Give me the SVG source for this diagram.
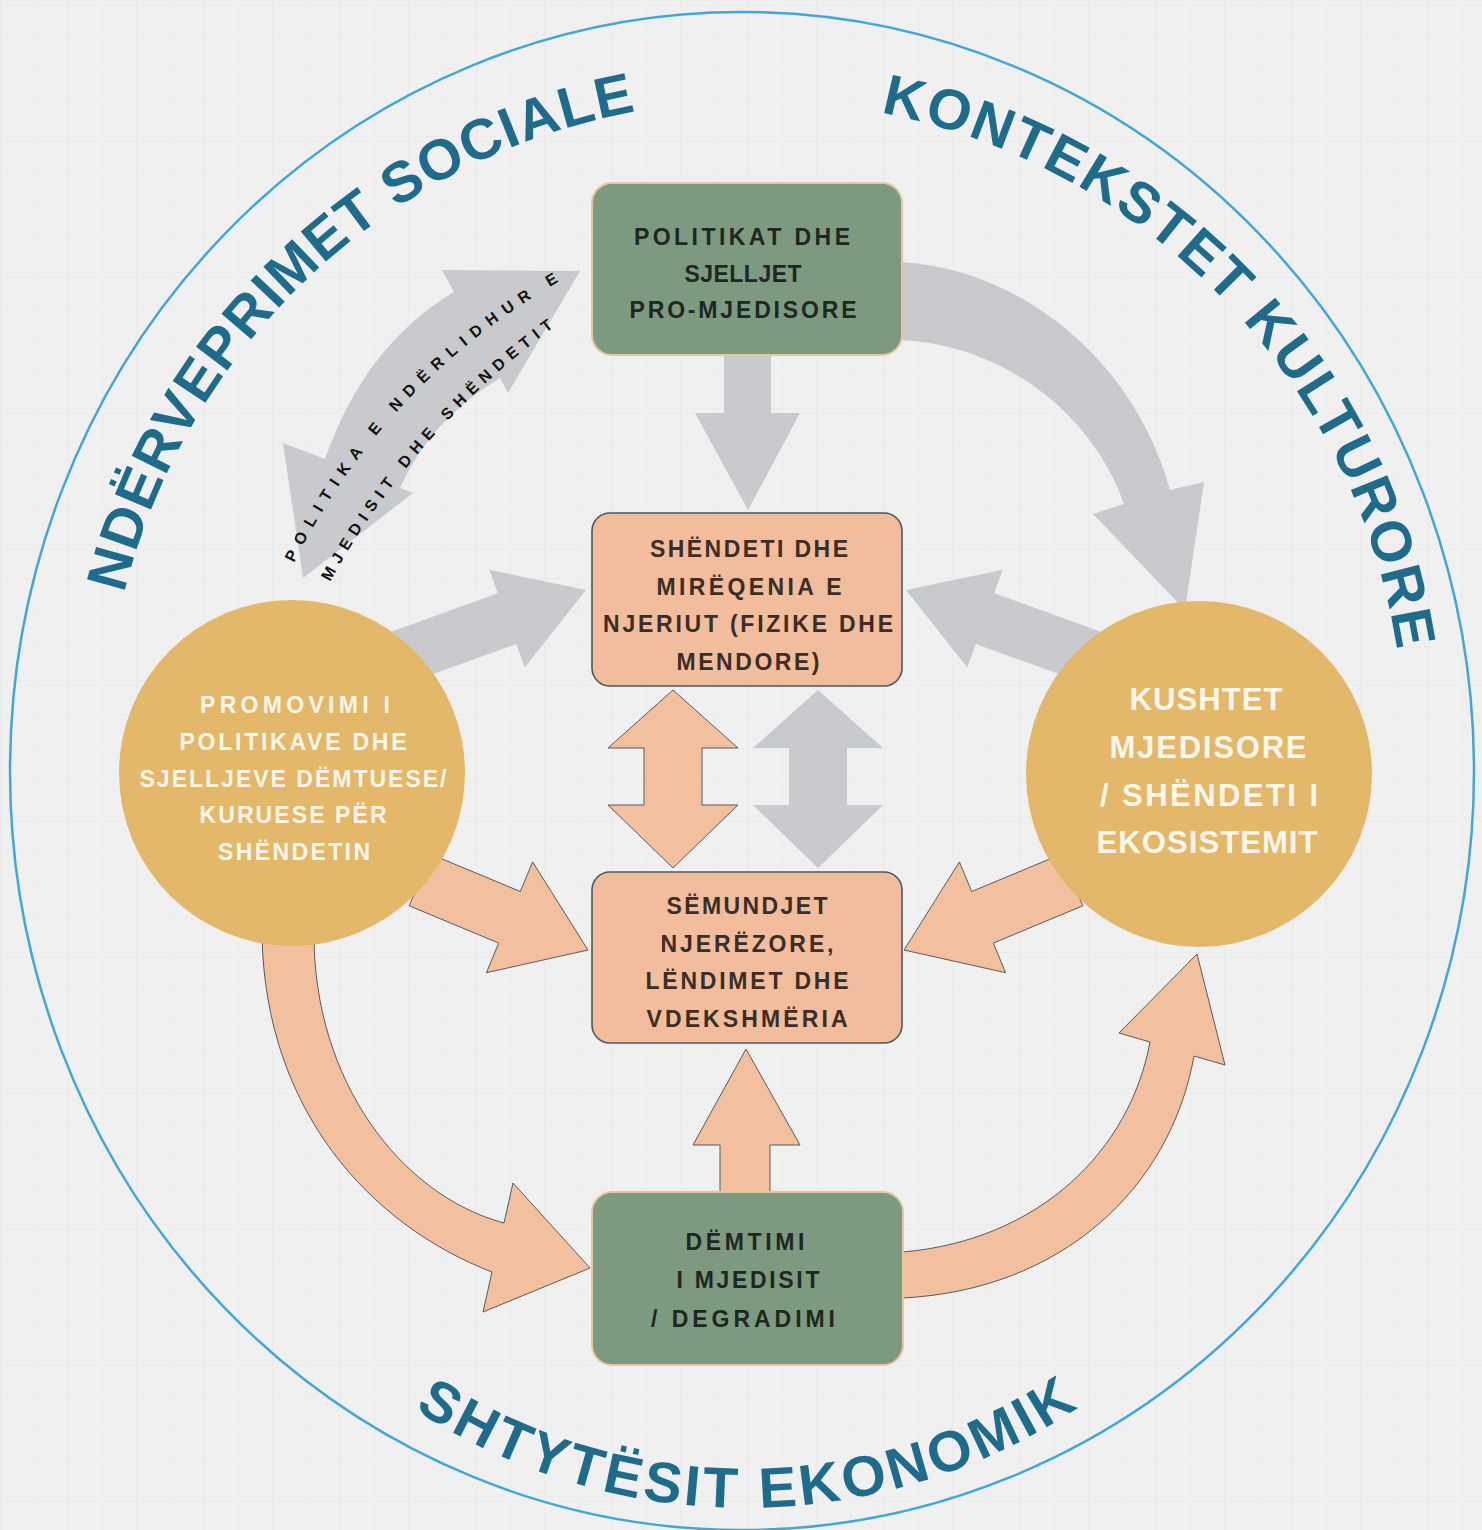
<svg xmlns="http://www.w3.org/2000/svg" width="1482" height="1530" viewBox="0 0 1482 1530">
<defs>
<pattern id="grid" width="34" height="34" patternUnits="userSpaceOnUse">
<path d="M34 0H0V34" fill="none" stroke="#e4e4e4" stroke-width="0.8"/>
</pattern>
<path id="topArc" d="M 105 750 A 650 650 0 0 1 1405 750"/>
<path id="botArc" d="M 142 905 A 603 603 0 0 0 1348 905"/>
<path id="lbl1" d="M 294 563 Q 383 383 563 279"/>
<path id="lbl2" d="M 330 582 Q 417 423 572 314"/>
<style>
.ring{fill:none;stroke:#43a7d5;stroke-width:2.5}
.ctx{font-family:"Liberation Sans",Arial,sans-serif;font-weight:bold;font-size:57px;fill:#1f6b8b}
.gray{fill:#c9cacd}
.peach{fill:#f2bf9f;stroke:#5b5b5b;stroke-width:1}
.green{fill:#7d9a80;stroke:#e8c79c;stroke-width:2}
.pink{fill:#f1bd9c;stroke:#4b5a5e;stroke-width:1.6}
.gold{fill:#e3b86b}
.t{font-family:"Liberation Sans",Arial,sans-serif;font-weight:bold;font-size:23px;text-anchor:middle}
.dark{fill:#1e2721}
.brown{fill:#3b2d27}
.white{fill:#fdf6ea}
.big{font-size:31px}
.lbl{font-family:"Liberation Sans",Arial,sans-serif;font-weight:bold;font-size:16px;fill:#111}
</style>
</defs>
<rect width="1482" height="1530" fill="#f0f0f0"/>
<rect width="1482" height="1530" fill="url(#grid)"/>
<ellipse class="ring" cx="742" cy="771" rx="732" ry="759"/>
<g id="context-labels">
<text class="ctx"><textPath href="#topArc" startOffset="158" textLength="743" lengthAdjust="spacing">NDËRVEPRIMET SOCIALE</textPath></text>
<text class="ctx"><textPath href="#topArc" startOffset="1147" textLength="794" lengthAdjust="spacing">KONTEKSTET KULTURORE</textPath></text>
<text class="ctx"><textPath href="#botArc" startOffset="597" textLength="703" lengthAdjust="spacing">SHTYTËSIT EKONOMIK</textPath></text>
</g>
<g id="connectors">
<path class="gray" d="M 303 578 L 283 443 L 325 459 Q 365 345 454 292 L 442 270 L 580 271 L 508 393 L 500 378 Q 430 420 400 488 L 413 493 Z"/>
<polygon class="gray" points="724,350 771,350 771,413 800,413 748,510 695,413 724,413"/>
<path class="gray" d="M 900 262 C 1020 268 1135 360 1170 490 L 1204 482 L 1185 610 L 1093 514 L 1124 504 C 1095 420 1010 345 900 340 Z"/>
<polygon class="gray" points="385,634 497.8,593.2 489.3,569.7 586,590 524.7,667.5 516.2,644 403.4,684.8"/>
<polygon class="gray" points="1107,634 994.2,593.2 1002.7,569.7 906,590 967.3,667.5 975.8,644 1088.6,684.8"/>
<polygon class="gray" points="818,690 883,748 847,748 847,805 883,805 818,868 753,805 789,805 789,748 753,748"/>
<polygon class="peach" points="673,690 738,748 702,748 702,805 738,805 673,868 608,805 644,805 644,748 608,748"/>
<polygon class="peach" points="430.8,854.2 520.3,891.5 532.6,861.9 588,950 486.4,972.7 498.7,943.1 409.2,905.8"/>
<polygon class="peach" points="1061.2,854.2 971.7,891.5 959.4,861.9 904,950 1005.6,972.7 993.3,943.1 1082.8,905.8"/>
<polygon class="peach" points="720,1195 770,1195 770,1145 800,1145 746,1049 693,1145 720,1145"/>
<path class="peach" d="M 262 935 C 265 1110 370 1225 492 1272 L 483 1312 L 590 1268 L 513 1183 L 504 1223 C 400 1195 314 1080 314 935 Z"/>
<path class="peach" d="M 903 1252 C 1040 1240 1130 1150 1150 1042 L 1119 1033 L 1197 954 L 1225 1065 L 1194 1056 C 1170 1190 1060 1290 903 1298 Z"/>
<text class="lbl"><textPath href="#lbl1" textLength="392" lengthAdjust="spacing">POLITIKA E NDËRLIDHUR E</textPath></text>
<text class="lbl"><textPath href="#lbl2" textLength="342" lengthAdjust="spacing">MJEDISIT DHE SHËNDETIT</textPath></text>
</g>
<g id="node-politikat">
<rect class="green" x="592" y="183" width="310" height="172" rx="20"/>
<text class="t dark" x="742" y="245" textLength="216">POLITIKAT DHE</text>
<text class="t dark" x="743" y="282" textLength="117">SJELLJET</text>
<text class="t dark" x="743" y="318" textLength="227">PRO-MJEDISORE</text>
</g>
<g id="node-shendeti">
<rect class="pink" x="592" y="513" width="310" height="173" rx="18"/>
<text class="t brown" x="749" y="557" textLength="198">SHËNDETI DHE</text>
<text class="t brown" x="749" y="595" textLength="185">MIRËQENIA E</text>
<text class="t brown" x="748" y="632" textLength="290">NJERIUT (FIZIKE DHE</text>
<text class="t brown" x="748" y="670" textLength="143">MENDORE)</text>
</g>
<g id="node-semundjet">
<rect class="pink" x="592" y="872" width="310" height="171" rx="18"/>
<text class="t brown" x="747" y="914" textLength="161">SËMUNDJET</text>
<text class="t brown" x="747" y="952" textLength="173">NJERËZORE,</text>
<text class="t brown" x="747" y="989" textLength="203">LËNDIMET DHE</text>
<text class="t brown" x="747" y="1027" textLength="201">VDEKSHMËRIA</text>
</g>
<g id="node-demtimi">
<rect class="green" x="592" y="1192" width="311" height="173" rx="20"/>
<text class="t dark" x="745" y="1250" textLength="119">DËMTIMI</text>
<text class="t dark" x="748" y="1288" textLength="143">I MJEDISIT</text>
<text class="t dark" x="743" y="1327" textLength="184">/ DEGRADIMI</text>
</g>
<g id="node-promovimi">
<circle class="gold" cx="292" cy="773" r="173"/>
<text class="t white" x="295" y="713" textLength="190">PROMOVIMI I</text>
<text class="t white" x="293" y="750" textLength="227">POLITIKAVE DHE</text>
<text class="t white" x="293" y="787" textLength="307">SJELLJEVE DËMTUESE/</text>
<text class="t white" x="293" y="823" textLength="187">KURUESE PËR</text>
<text class="t white" x="294" y="860" textLength="152">SHËNDETIN</text>
</g>
<g id="node-kushtet">
<circle class="gold" cx="1199" cy="774" r="173"/>
<text class="t big white" x="1206" y="710" textLength="153">KUSHTET</text>
<text class="t big white" x="1208" y="758" textLength="197">MJEDISORE</text>
<text class="t big white" x="1209" y="806" textLength="218">/ SHËNDETI I</text>
<text class="t big white" x="1207" y="853" textLength="221">EKOSISTEMIT</text>
</g>
</svg>
